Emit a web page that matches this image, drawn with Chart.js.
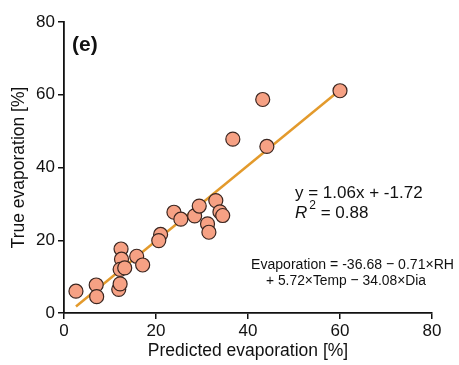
<!DOCTYPE html>
<html>
<head>
<meta charset="utf-8">
<script src="https://cdn.jsdelivr.net/npm/chart.js@4"></script>
<style>
  html, body { margin: 0; padding: 0; background: #fff; }
  #wrap { width: 459px; height: 365px; }
</style>
</head>
<body>
<div id="wrap"><canvas id="evapChart"></canvas></div>
<script>
// predicted vs true evaporation
const predicted = [2.6, 7.0, 7.1, 11.9, 12.2, 12.4, 12.5, 12.2, 13.2, 15.8, 17.1,
    21.0, 20.6, 23.9, 25.4, 28.4, 29.4, 31.2, 31.5, 33.0, 33.9, 34.5,
    60.0, 43.2, 36.7, 44.1]
const observed = [6.0, 7.7, 4.5, 6.5, 8.0, 17.6, 14.8, 12.0, 12.4, 15.6, 13.2,
    21.6, 19.9, 27.7, 25.8, 26.7, 29.4, 24.5, 22.2, 30.9, 27.8, 26.8,
    61.1, 58.7, 47.8, 45.8]

// fitted line ends
const fitX = [2.6, 60.0]
const fitY = [1.8, 61.3]

const xTicks = [0, 20, 40, 60, 80]
const yTicks = [0, 20, 40, 60, 80]

const fontFam = "'Liberation Sans', Arial, sans-serif"

const notes = {
    id: 'notes',
    afterDraw(chart) {
        const ctx = chart.ctx
        ctx.save()
        ctx.fillStyle = '#111'
        ctx.textBaseline = 'middle'
        ctx.textAlign = 'left'
        ctx.font = 'bold 21px ' + fontFam
        ctx.fillText('(e)', 72, 45)

        ctx.font = '17px ' + fontFam
        ctx.fillText('y = 1.06x + -1.72', 295, 193, 136)
        // R^2 line
        ctx.font = 'italic 17px ' + fontFam
        ctx.fillText('R', 295, 213)
        let w = ctx.measureText('R').width
        ctx.font = '12px ' + fontFam
        ctx.fillText('2', 295 + w + 2, 206)
        let w2 = ctx.measureText('2').width
        ctx.font = '17px ' + fontFam
        ctx.fillText(' = 0.88', 295 + w + w2 + 2, 213)

        ctx.font = '15.5px ' + fontFam
        ctx.fillText('Evaporation = -36.68 \u2212 0.71\u00d7RH', 251, 265, 203)
        ctx.fillText('+ 5.72\u00d7Temp \u2212 34.08\u00d7Dia', 266, 281, 160)
        ctx.restore()
    }
}

const points = predicted.map((v, i) => ({ x: v, y: observed[i] }))
const fitLine = fitX.map((v, i) => ({ x: v, y: fitY[i] }))

const config = {
    type: 'scatter',
    data: {
        datasets: [{
            label: 'obs',
            data: points,
            backgroundColor: '#F6A184',
            borderColor: '#3b2620',
            borderWidth: 1.2,
            pointRadius: 7,
            order: 1
        }, {
            type: 'line',
            label: 'fit',
            data: fitLine,
            borderColor: '#E39A2C',
            borderWidth: 2.5,
            pointRadius: 0,
            fill: false,
            order: 2
        }]
    },
    options: {
        responsive: true,
        maintainAspectRatio: false,
        animation: false,
        layout: { padding: { top: 22, right: 27, left: 0, bottom: 0 } },
        plugins: {
            legend: { display: false },
            tooltip: { enabled: false }
        },
        scales: {
            x: {
                type: 'linear',
                min: 0,
                max: 80,
                afterBuildTicks: s => { s.ticks = xTicks.map(v => ({ value: v })) },
                afterFit: s => { s.height = 52 },
                grid: { drawOnChartArea: false, tickLength: 6, color: '#111', lineWidth: 1.5 },
                border: { color: '#111', width: 1.8 },
                ticks: { color: '#111', font: { family: fontFam, size: 17 }, padding: 2 },
                title: {
                    display: true,
                    text: 'Predicted evaporation [%]',
                    color: '#111',
                    font: { family: fontFam, size: 17.5 },
                    padding: { top: 0, bottom: 3 }
                }
            },
            y: {
                type: 'linear',
                min: 0,
                max: 80,
                afterBuildTicks: s => { s.ticks = yTicks.map(v => ({ value: v })) },
                afterFit: s => { s.width = 64 },
                grid: { drawOnChartArea: false, tickLength: 6, color: '#111', lineWidth: 1.5 },
                border: { color: '#111', width: 1.8 },
                ticks: { color: '#111', font: { family: fontFam, size: 17 }, padding: 3 },
                title: {
                    display: true,
                    text: 'True evaporation [%]',
                    color: '#111',
                    font: { family: fontFam, size: 17.5 },
                    padding: { top: 9, bottom: 0 }
                }
            }
        }
    },
    plugins: [notes]
}

const myChart = new Chart(document.getElementById('evapChart'), config)
</script>
</body>
</html>
